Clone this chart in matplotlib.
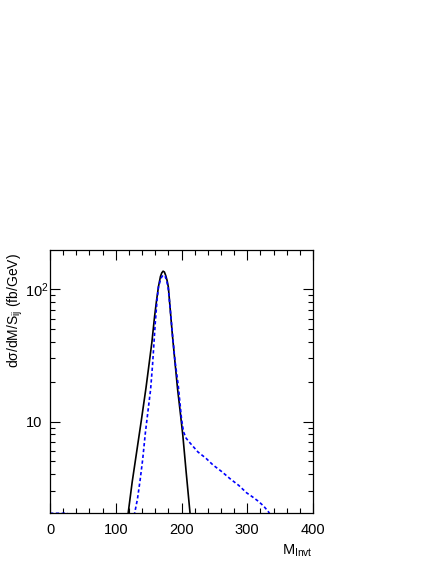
import numpy as np
import matplotlib
matplotlib.use('Agg')
import matplotlib.pyplot as plt
from matplotlib.ticker import MultipleLocator, LogLocator, FuncFormatter, NullFormatter
from matplotlib.transforms import ScaledTranslation

plt.rcParams['font.family'] = ['Liberation Sans', 'DejaVu Sans']
plt.rcParams['mathtext.fontset'] = 'custom'
plt.rcParams['mathtext.rm'] = 'Liberation Sans'
plt.rcParams['mathtext.it'] = 'Liberation Sans:italic'

# solid black curve
black_x = [117, 125, 132, 139, 146, 151, 155, 159, 162, 165, 168, 170, 172, 174,
           176, 178, 180, 183, 186, 190, 194, 198, 202, 207, 214]
black_y = [1.72, 3.5, 6.0, 10.3, 18, 28, 40, 62, 82, 105, 125, 133, 137, 135,
           127, 117, 104, 69, 46, 28.4, 17.7, 11.9, 7.9, 4.2, 1.8]

# dotted blue curve
blue_x = [0, 27, np.nan, 128, 133, 137, 141, 145, 149, 153, 156, 160, 163, 165, 168,
          170, 172, 175, 178, 180, 183, 186, 190, 195, 200, 203, 207, 213, 225,
          237, 248, 261, 274, 287, 299, 308, 317, 325, 332, 336]
blue_y = [2.03, 2.03, np.nan, 1.95, 2.6, 3.6, 5.2, 8.2, 12, 17.5, 27, 55, 85, 104, 118,
          124, 128, 126, 113, 100, 70, 47, 29, 18.9, 10.5, 8.4, 7.5, 6.9, 5.9,
          5.3, 4.7, 4.2, 3.7, 3.3, 2.9, 2.7, 2.5, 2.3, 2.09, 1.95]

fig = plt.figure(figsize=(4.36, 5.64), dpi=100)
ax = fig.add_axes([50 / 436, 1 - 513.3 / 564, 263 / 436, 263.3 / 564])

ax.plot(black_x, black_y, color='black', lw=1.2)
ax.plot(blue_x, blue_y, color='blue', lw=1.2, linestyle=(0, (2, 1.5)))

ax.set_yscale('log')
ax.set_xlim(0, 400)
ax.set_ylim(2.03, 198)

ax.xaxis.set_major_locator(MultipleLocator(100))
ax.xaxis.set_minor_locator(MultipleLocator(20))
ax.yaxis.set_major_locator(LogLocator(base=10))
ax.yaxis.set_minor_locator(LogLocator(base=10, subs=np.arange(2, 10)))
ax.yaxis.set_minor_formatter(NullFormatter())


def ylab(v, pos):
    if abs(v - 10) < 1e-6:
        return '10'
    if abs(v - 100) < 1e-6:
        return r'$10^{2}$'
    return ''


ax.yaxis.set_major_formatter(FuncFormatter(ylab))

ax.tick_params(which='both', direction='in', top=True, right=True, labelsize=10.5, width=0.8)
ax.tick_params(which='major', length=7)
ax.tick_params(axis='x', which='major', pad=7)
ax.tick_params(axis='y', which='major', pad=5.5)
ax.tick_params(which='minor', length=3.5)
for s in ax.spines.values():
    s.set_linewidth(0.9)

# keep the "10" of 10^2 aligned with the plain "10", exponent sticking out
ylocs = list(ax.yaxis.get_major_locator()())
yticks = ax.yaxis.get_major_ticks(len(ylocs))
for loc, tick in zip(ylocs, yticks):
    if abs(loc - 100) < 1e-6:
        tick.label1.set_transform(tick.label1.get_transform()
                                  + ScaledTranslation(6 / 100, 0, fig.dpi_scale_trans))

ax.set_ylabel(r'dσ/dM/S$_{\mathrm{ij}}$ (fb/GeV)', fontsize=10, loc='top')
ax.yaxis.set_label_coords(-0.094, 0.989)
ax.set_xlabel(r'M$_{\mathrm{Invt}}$', fontsize=10.5, loc='right')
ax.xaxis.set_label_coords(1.0, -0.11)

fig.savefig('out.png', dpi=100)
